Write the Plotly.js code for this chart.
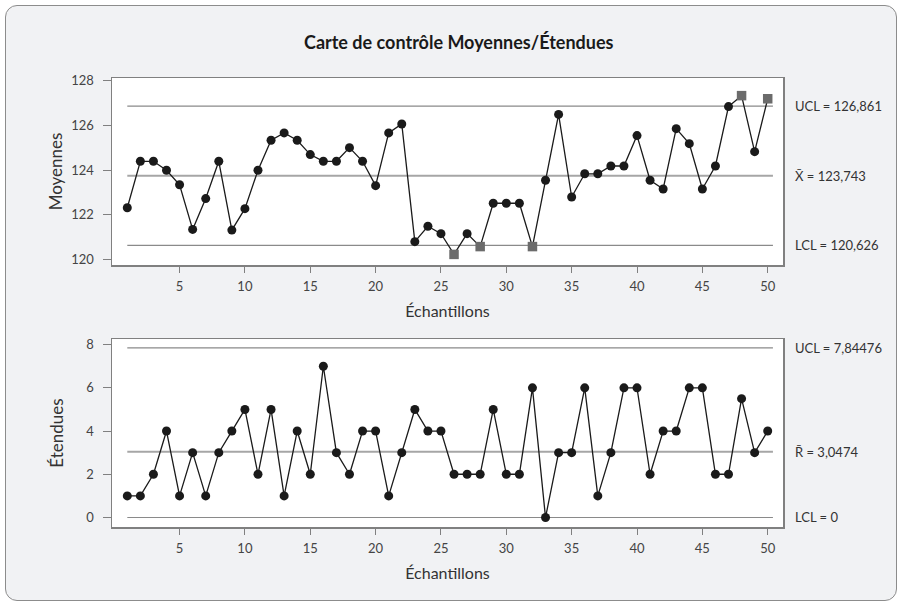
<!DOCTYPE html>
<html>
<head>
<meta charset="utf-8">
<script src="https://cdn.plot.ly/plotly-3.0.1.min.js"></script>
<style>
  html, body { margin: 0; padding: 0; background: #ffffff; }
  #frame { position: absolute; left: 5px; top: 5px; width: 890px; height: 594px;
           border: 1.5px solid #8c8c8c; border-radius: 12px; background: #f1f2f4; }
  #chart { position: absolute; left: 0; top: 0; width: 903px; height: 607px; }
</style>
</head>
<body>
<div id="frame"></div>
<div id="chart"></div>
<script>
// ---- Data ----
const samples = Array.from({length: 50}, (_, i) => i + 1);

const means = [
  122.31, 124.39, 124.39, 123.99, 123.34, 121.34, 122.72, 124.39, 121.31, 122.27,
  123.99, 125.33, 125.66, 125.33, 124.69, 124.39, 124.39, 125.00, 124.39, 123.30,
  125.66, 126.06, 120.79, 121.48, 121.15, 120.22, 121.15, 120.57, 122.51, 122.51,
  122.51, 120.57, 123.54, 126.49, 122.79, 123.83, 123.83, 124.18, 124.18, 125.54,
  123.54, 123.15, 125.85, 125.18, 123.15, 124.18, 126.84, 127.33, 124.82, 127.19
];

const ranges = [
  1, 1, 2, 4, 1, 3, 1, 3, 4, 5,
  2, 5, 1, 4, 2, 7, 3, 2, 4, 4,
  1, 3, 5, 4, 4, 2, 2, 2, 5, 2,
  2, 6, 0, 3, 3, 6, 1, 3, 6, 6,
  2, 4, 4, 6, 6, 2, 2, 5.5, 3, 4
];

// samples flagged out of control on the means chart
const outOfControl = [26, 28, 32, 48, 50];

const meanLimits = { UCL: 126.861, CL: 123.743, LCL: 120.626 };
const rangeLimits = { UCL: 7.84476, CL: 3.0474, LCL: 0 };

const meanLabels = ["UCL = 126,861", "X\u0304 = 123,743", "LCL = 120,626"];
const rangeLabels = ["UCL = 7,84476", "R\u0304 = 3,0474", "LCL = 0"];

const xTicks = [5, 10, 15, 20, 25, 30, 35, 40, 45, 50];
const meanTicks = [120, 122, 124, 126, 128];
const rangeTicks = [0, 2, 4, 6, 8];

const titleText = "Carte de contrôle Moyennes/Étendues";
const xTitle = "Échantillons";
const meanTitle = "Moyennes";
const rangeTitle = "Étendues";

// ---- Drawing ----
const FONT = "Lato, 'Noto Sans', sans-serif";
const lineSpan = [1, 50.4];

function limitTrace(val, xa, ya, isCenter) {
  return {
    x: lineSpan, y: [val, val], xaxis: xa, yaxis: ya, mode: "lines",
    line: { color: isCenter ? "#a6a6a6" : "#8a8a8a", width: isCenter ? 2 : 1.2 },
    hoverinfo: "skip", showlegend: false
  };
}

const meanColors = samples.map(s => outOfControl.includes(s) ? "#6b6b6b" : "#1a1a1a");
const meanSymbols = samples.map(s => outOfControl.includes(s) ? "square" : "circle");
const meanSizes = samples.map(s => outOfControl.includes(s) ? 9.5 : 9);

const traces = [
  limitTrace(meanLimits.UCL, "x", "y", false),
  limitTrace(meanLimits.CL, "x", "y", true),
  limitTrace(meanLimits.LCL, "x", "y", false),
  limitTrace(rangeLimits.UCL, "x2", "y2", false),
  limitTrace(rangeLimits.CL, "x2", "y2", true),
  limitTrace(rangeLimits.LCL, "x2", "y2", false),
  {
    x: samples, y: means, xaxis: "x", yaxis: "y", mode: "lines+markers",
    line: { color: "#1a1a1a", width: 1.3 },
    marker: { color: meanColors, symbol: meanSymbols, size: meanSizes, opacity: 1, line: { width: 0 } },
    showlegend: false
  },
  {
    x: samples, y: ranges, xaxis: "x2", yaxis: "y2", mode: "lines+markers",
    line: { color: "#1a1a1a", width: 1.3 },
    marker: { color: "#1a1a1a", symbol: "circle", size: 9, opacity: 1, line: { width: 0 } },
    showlegend: false
  }
];

const tickFont = { family: FONT, size: 13, color: "#444" };
const titleFont = { family: FONT, size: 16, color: "#333" };

function xAxis(anchor) {
  return {
    anchor: anchor, range: [-0.17, 51.17], tickvals: xTicks, ticktext: xTicks.map(String),
    showgrid: false, zeroline: false, showline: true, mirror: true,
    linecolor: "#808080", linewidth: 1.5,
    ticks: "outside", ticklen: 6, tickcolor: "#808080", tickwidth: 1,
    ticklabelstandoff: 3,
    tickfont: tickFont, title: { text: xTitle, font: titleFont, standoff: 12 }
  };
}
function yAxis(anchor, domain, range, ticks, title, standoff) {
  return {
    anchor: anchor, domain: domain, range: range, tickvals: ticks, ticktext: ticks.map(String),
    showgrid: false, zeroline: false, showline: true, mirror: true,
    linecolor: "#808080", linewidth: 1.5,
    ticks: "outside", ticklen: 8, tickcolor: "#808080", tickwidth: 1,
    ticklabelstandoff: 6,
    tickfont: tickFont, title: { text: title, font: { family: FONT, size: 17, color: "#333" }, standoff: standoff }
  };
}

const annotations = [];
[meanLimits.UCL, meanLimits.CL, meanLimits.LCL].forEach((v, i) => annotations.push({
  xref: "paper", yref: "y", x: 1.0144, y: v, xanchor: "left", yanchor: "middle",
  text: meanLabels[i], showarrow: false, font: { family: FONT, size: 13, color: "#333" }
}));
[rangeLimits.UCL, rangeLimits.CL, rangeLimits.LCL].forEach((v, i) => annotations.push({
  xref: "paper", yref: "y2", x: 1.0144, y: v, xanchor: "left", yanchor: "middle",
  text: rangeLabels[i], showarrow: false, font: { family: FONT, size: 13, color: "#333" }
}));

const layout = {
  width: 903, height: 607,
  margin: { l: 112, r: 120, t: 78, b: 80 },
  paper_bgcolor: "rgba(0,0,0,0)", plot_bgcolor: "#ffffff",
  title: { text: "<b>" + titleText + "</b>", font: { family: FONT, size: 18, color: "#1a1a1a" },
           x: 0.508, xanchor: "center", y: 0.93, yanchor: "middle" },
  xaxis: xAxis("y"),
  yaxis: yAxis("x", [0.5835, 1], [119.745, 128.12], meanTicks, meanTitle, 4),
  xaxis2: xAxis("y2"),
  yaxis2: yAxis("x2", [0, 0.4187], [-0.44, 8.26], rangeTicks, rangeTitle, 18),
  annotations: annotations,
  showlegend: false
};

Plotly.newPlot("chart", traces, layout, { displayModeBar: false, staticPlot: true });
</script>
</body>
</html>
